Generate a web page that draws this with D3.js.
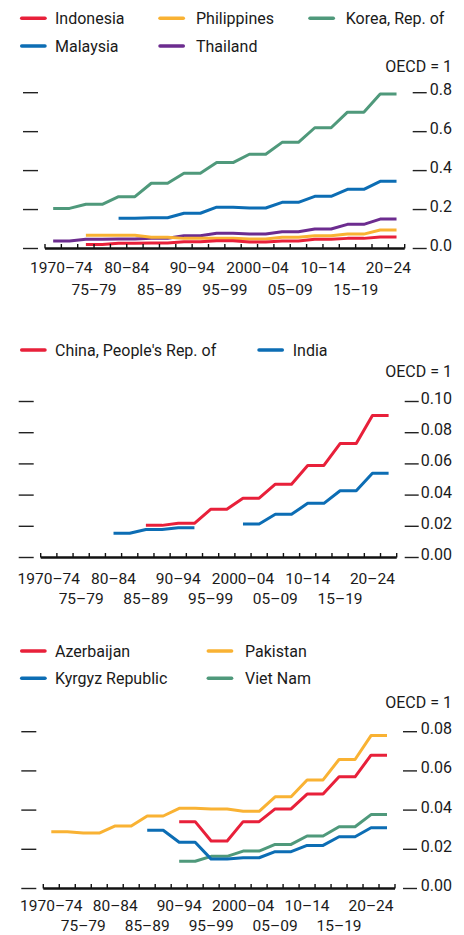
<!DOCTYPE html>
<html>
<head>
<meta charset="utf-8">
<script src="https://cdn.jsdelivr.net/npm/d3@7"></script>
<style>
  body { margin: 0; background: #fff; }
  svg text { font-family: Roboto, "Noto Sans", sans-serif; font-size: 16px; fill: #1a1a1a; }
  svg text.xlabel { font-size: 15.5px; }
</style>
</head>
<body>
<div id="chart"></div>
<script>
const periods = ["1970–74", "75–79", "80–84", "85–89", "90–94", "95–99", "2000–04", "05–09", "10–14", "15–19", "20–24"];

// panel 1 (OECD = 1)
const indonesia   = [null, 0.020, 0.027, 0.028, 0.035, 0.040, 0.033, 0.038, 0.047, 0.052, 0.059];
const philippines = [null, 0.068, 0.068, 0.058, 0.052, 0.052, 0.049, 0.058, 0.066, 0.074, 0.095];
const korea       = [0.206, 0.227, 0.266, 0.335, 0.386, 0.441, 0.484, 0.545, 0.620, 0.700, 0.793];
const malaysia    = [null, null, 0.155, 0.158, 0.181, 0.212, 0.208, 0.237, 0.268, 0.304, 0.345];
const thailand    = [0.039, 0.047, 0.049, 0.053, 0.066, 0.078, 0.074, 0.086, 0.100, 0.124, 0.151];

// panel 2
const china = [null, null, null, 0.0206, 0.0219, 0.0309, 0.0380, 0.0470, 0.0590, 0.0730, 0.0910];
const india = [null, null, 0.0155, 0.0180, 0.0190, null, 0.0215, 0.0277, 0.0347, 0.0428, 0.0540];

// panel 3
const azerbaijan = [null, null, null, null, 0.0341, 0.0242, 0.0341, 0.0406, 0.0482, 0.0570, 0.0680];
const pakistan   = [0.0290, 0.0283, 0.0319, 0.0370, 0.0409, 0.0406, 0.0394, 0.0468, 0.0554, 0.0658, 0.0780];
const kyrgyz     = [null, null, null, 0.0297, 0.0236, 0.0150, 0.0157, 0.0188, 0.0220, 0.0264, 0.0310];
const vietnam    = [null, null, null, null, 0.0139, 0.0164, 0.0191, 0.0225, 0.0268, 0.0315, 0.0377];

const yTicks1 = [0, 0.2, 0.4, 0.6, 0.8];
const yTicks2 = [0, 0.02, 0.04, 0.06, 0.08, 0.10];
const yTicks3 = [0, 0.02, 0.04, 0.06, 0.08];

const colors = {
    red: "#e8203a",
    orange: "#f9b233",
    green: "#4f997b",
    blue: "#0c6db4",
    purple: "#6c2c8f"
};

const panels = [
    {
        x0: 45, x1: 404.7, yBase: 248.5, yTop: 92.7, ticks: yTicks1, fmt: ".1f",
        oecdY: 72, labelRows: [273, 295], labelShift: 1,
        legend: [
            { name: "Indonesia", color: colors.red, sx: 21.7, tx: 55, y: 18.3 },
            { name: "Philippines", color: colors.orange, sx: 160, tx: 196, y: 18.3 },
            { name: "Korea, Rep. of", color: colors.green, sx: 310, tx: 345.7, y: 18.3 },
            { name: "Malaysia", color: colors.blue, sx: 21.7, tx: 55, y: 46 },
            { name: "Thailand", color: colors.purple, sx: 160, tx: 196, y: 46 }
        ],
        series: [
            { values: thailand, color: colors.purple },
            { values: philippines, color: colors.orange },
            { values: indonesia, color: colors.red },
            { values: malaysia, color: colors.blue },
            { values: korea, color: colors.green }
        ]
    },
    {
        x0: 40.7, x1: 396.7, yBase: 557.5, yTop: 401.5, ticks: yTicks2, fmt: ".2f",
        oecdY: 377, labelRows: [583.5, 603.5], labelShift: 0.5,
        legend: [
            { name: "China, People's Rep. of", color: colors.red, sx: 21.7, tx: 55, y: 350 },
            { name: "India", color: colors.blue, sx: 259, tx: 292.7, y: 350 }
        ],
        series: [
            { values: india, color: colors.blue },
            { values: china, color: colors.red }
        ]
    },
    {
        x0: 43.3, x1: 395, yBase: 888.5, yTop: 731.7, ticks: yTicks3, fmt: ".2f",
        oecdY: 708, labelRows: [911, 930.5], labelShift: 0.5,
        legend: [
            { name: "Azerbaijan", color: colors.red, sx: 21.7, tx: 55, y: 651 },
            { name: "Pakistan", color: colors.orange, sx: 208.3, tx: 245, y: 651 },
            { name: "Kyrgyz Republic", color: colors.blue, sx: 21.7, tx: 55, y: 678.3 },
            { name: "Viet Nam", color: colors.green, sx: 208.3, tx: 245, y: 678.3 }
        ],
        series: [
            { values: vietnam, color: colors.green },
            { values: kyrgyz, color: colors.blue },
            { values: pakistan, color: colors.orange },
            { values: azerbaijan, color: colors.red }
        ]
    }
];

const svg = d3.select("#chart")
    .append("svg")
    .attr("width", 464)
    .attr("height", 935);

function drawPanel(p) {
    let g = svg.append("g")
    let nSlots = periods.length * 2

    // each period takes two half-slots; value held flat across both
    let x = d3.scaleLinear().domain([0, nSlots]).range([p.x0, p.x1])
    let y = d3.scaleLinear().domain([0, d3.max(p.ticks)]).range([p.yBase, p.yTop])

    // legend
    p.legend.forEach(item => {
        g.append("line")
            .attr("x1", item.sx).attr("x2", item.sx + 23.3)
            .attr("y1", item.y).attr("y2", item.y)
            .attr("stroke", item.color)
            .attr("stroke-width", 3.5)
            .attr("stroke-linecap", "round")
        g.append("text")
            .attr("x", item.tx)
            .attr("y", item.y + 5.8)
            .text(item.name)
    })

    g.append("text")
        .attr("x", 452)
        .attr("y", p.oecdY)
        .attr("text-anchor", "end")
        .text("OECD = 1")

    // left ticks (no labels)
    g.selectAll(".ltick")
        .data(p.ticks)
        .enter()
        .append("line")
        .attr("x1", p.x0 - 22).attr("x2", p.x0 - 7)
        .attr("y1", d => y(d)).attr("y2", d => y(d))
        .attr("stroke", "#222")
        .attr("stroke-width", 1.4)

    // right ticks + labels
    g.selectAll(".rtick")
        .data(p.ticks)
        .enter()
        .append("line")
        .attr("x1", p.x1 + 8).attr("x2", p.x1 + 22)
        .attr("y1", d => y(d)).attr("y2", d => y(d))
        .attr("stroke", "#222")
        .attr("stroke-width", 1.4)

    g.selectAll(".rlabel")
        .data(p.ticks)
        .enter()
        .append("text")
        .attr("x", 452)
        .attr("y", d => y(d) + 2.5)
        .attr("text-anchor", "end")
        .text(d => d3.format(p.fmt)(d))

    // series
    p.series.forEach(s => {
        let pts = []
        s.values.forEach((v, i) => {
            pts.push({ slot: 2 * i + 0.5, v: v })
            pts.push({ slot: 2 * i + 1.5, v: v })
        })
        g.append("path")
            .datum(pts)
            .attr("fill", "none")
            .attr("stroke", s.color)
            .attr("stroke-width", 3)
            .attr("stroke-linejoin", "round")
            .attr("d", d3.line()
                .defined(d => d.v !== null)
                .x(d => x(d.slot))
                .y(d => y(d.v))
            )
    })

    // x axis: baseline with small upward ticks at every half-period
    g.selectAll(".xtick")
        .data(d3.range(nSlots + 1))
        .enter()
        .append("line")
        .attr("x1", d => x(d)).attr("x2", d => x(d))
        .attr("y1", p.yBase).attr("y2", p.yBase - 4.5)
        .attr("stroke", "#111")
        .attr("stroke-width", 1.4)

    g.append("line")
        .attr("x1", p.x0).attr("x2", p.x1)
        .attr("y1", p.yBase).attr("y2", p.yBase)
        .attr("stroke", "#111")
        .attr("stroke-width", 2.6)

    g.selectAll(".xlabel")
        .data(periods)
        .enter()
        .append("text")
        .attr("class", "xlabel")
        .attr("x", (d, i) => x(2 * i + p.labelShift))
        .attr("y", (d, i) => p.labelRows[i % 2])
        .attr("text-anchor", "middle")
        .text(d => d)
}

panels.forEach(drawPanel)
</script>
</body>
</html>
